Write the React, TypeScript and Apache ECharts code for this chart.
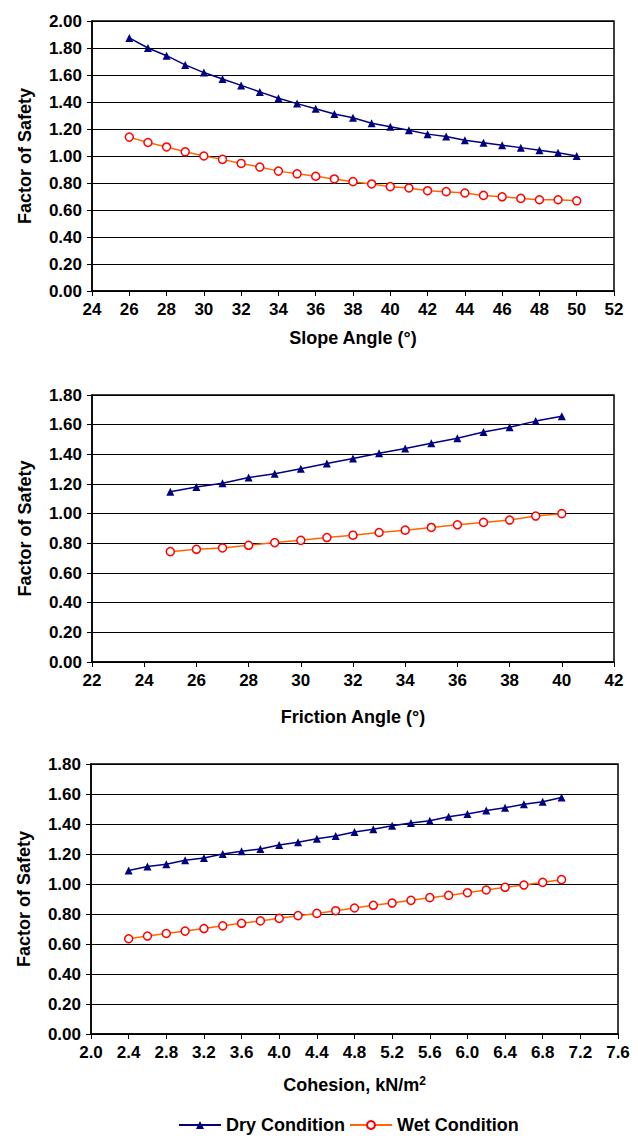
import React, { useEffect, useRef } from "react";
import * as echarts from "echarts";

const slopeAngles = [26, 27, 28, 29, 30, 31, 32, 33, 34, 35, 36, 37, 38, 39, 40, 41, 42, 43, 44, 45, 46, 47, 48, 49, 50];
const slopeDry = [1.875, 1.8, 1.743, 1.675, 1.618, 1.57, 1.523, 1.475, 1.428, 1.388, 1.35, 1.311, 1.283, 1.243, 1.217, 1.19, 1.162, 1.145, 1.117, 1.098, 1.079, 1.062, 1.043, 1.024, 1.0];
const slopeWet = [1.14, 1.1, 1.067, 1.031, 1.0, 0.975, 0.945, 0.918, 0.888, 0.868, 0.85, 0.83, 0.81, 0.793, 0.773, 0.763, 0.743, 0.736, 0.726, 0.708, 0.698, 0.686, 0.676, 0.676, 0.668];

const frictionAngles = [25, 26, 27, 28, 29, 30, 31, 32, 33, 34, 35, 36, 37, 38, 39, 40];
const frictionDry = [1.147, 1.18, 1.205, 1.244, 1.269, 1.303, 1.338, 1.372, 1.407, 1.44, 1.475, 1.508, 1.55, 1.582, 1.624, 1.657];
const frictionWet = [0.744, 0.76, 0.769, 0.787, 0.805, 0.82, 0.839, 0.855, 0.873, 0.889, 0.907, 0.925, 0.941, 0.957, 0.984, 1.0];

const cohesionValues = [2.4, 2.6, 2.8, 3.0, 3.2, 3.4, 3.6, 3.8, 4.0, 4.2, 4.4, 4.6, 4.8, 5.0, 5.2, 5.4, 5.6, 5.8, 6.0, 6.2, 6.4, 6.6, 6.8, 7.0];
const cohesionDry = [1.09, 1.116, 1.132, 1.158, 1.173, 1.2, 1.218, 1.233, 1.26, 1.278, 1.302, 1.32, 1.347, 1.365, 1.389, 1.406, 1.422, 1.448, 1.466, 1.49, 1.508, 1.532, 1.549, 1.576];
const cohesionWet = [0.635, 0.653, 0.67, 0.686, 0.703, 0.721, 0.738, 0.754, 0.771, 0.789, 0.804, 0.822, 0.84, 0.858, 0.873, 0.891, 0.909, 0.924, 0.942, 0.96, 0.978, 0.993, 1.011, 1.029];

const seriesNames = ["Dry Condition", "Wet Condition"];
const yTitle = "Factor of Safety";
const xTitles = ["Slope Angle (°)", "Friction Angle (°)", "Cohesion, kN/m{sup|2}"];

const FONT = "'Liberation Sans', Arial, sans-serif";
const DRY = "#000080";
const WET_LINE = "#FF6600";
const WET_MARK = "#FF0000";

function zip(xs: number[], ys: number[]) {
  return xs.map((x, i) => [x, ys[i]]);
}

export default function App() {
  const ref = useRef<HTMLDivElement>(null);
  useEffect(() => {
    if (!ref.current) return;
    const chart = echarts.init(ref.current, undefined, { renderer: "svg" });
    const tickStyle = { fontFamily: FONT, fontWeight: "bold" as const, fontSize: 17, color: "#000" };
    const titleStyle = { fontFamily: FONT, fontWeight: "bold" as const, fontSize: 18, color: "#000" };
    const grids = [
      { left: 92, top: 21, width: 522, height: 270 },
      { left: 92, top: 395, width: 522, height: 267 },
      { left: 91, top: 764, width: 527, height: 270 },
    ];
    const xCfg = [
      { min: 24, max: 52, interval: 2, dec: 0, gap: 38 },
      { min: 22, max: 42, interval: 2, dec: 0, gap: 46 },
      { min: 2.0, max: 7.6, interval: 0.4, dec: 1, gap: 41 },
    ];
    const yMax = [2.0, 1.8, 1.8];
    const data = [
      [zip(slopeAngles, slopeDry), zip(slopeAngles, slopeWet)],
      [zip(frictionAngles, frictionDry), zip(frictionAngles, frictionWet)],
      [zip(cohesionValues, cohesionDry), zip(cohesionValues, cohesionWet)],
    ];
    const axisLine = { show: true, onZero: false, lineStyle: { color: "#000", width: 1.5 } };
    const option: any = {
      animation: false,
      backgroundColor: "#fff",
      grid: grids.map((g) => ({ ...g, show: true, borderColor: "#000", borderWidth: 1.5, backgroundColor: "#fff" })),
      xAxis: xCfg.map((c, i) => ({
        type: "value",
        gridIndex: i,
        min: c.min,
        max: c.max,
        interval: c.interval,
        axisLine,
        axisTick: { show: true, inside: false, length: 5, lineStyle: { color: "#000", width: 1 } },
        splitLine: { show: false },
        axisLabel: { ...tickStyle, margin: 10, formatter: (v: number) => v.toFixed(c.dec) },
        name: xTitles[i],
        nameLocation: "middle",
        nameGap: c.gap,
        nameTextStyle: {
          ...titleStyle,
          rich: { sup: { fontFamily: FONT, fontWeight: "bold", fontSize: 12, color: "#000", verticalAlign: "top", padding: [0, 0, 8, 0] } },
        },
      })),
      yAxis: yMax.map((m, i) => ({
        type: "value",
        gridIndex: i,
        min: 0,
        max: m,
        interval: 0.2,
        axisLine,
        axisTick: { show: true, inside: false, length: 5, lineStyle: { color: "#000", width: 1 } },
        splitLine: { show: true, lineStyle: { color: "#000", width: 1 } },
        axisLabel: { ...tickStyle, margin: 10, formatter: (v: number) => v.toFixed(2) },
        name: yTitle,
        nameLocation: "middle",
        nameGap: 58,
        nameTextStyle: titleStyle,
      })),
      legend: {
        top: 1116,
        left: 178,
        padding: 0,
        itemWidth: 42,
        itemHeight: 10,
        itemGap: 4,
        textStyle: titleStyle,
        data: seriesNames,
      },
      series: data.flatMap((pair, i) => [
        {
          name: seriesNames[0],
          type: "line",
          xAxisIndex: i,
          yAxisIndex: i,
          data: pair[0],
          symbol: "triangle",
          symbolSize: 8,
          lineStyle: { color: DRY, width: 1.5 },
          itemStyle: { color: DRY },
        },
        {
          name: seriesNames[1],
          type: "line",
          xAxisIndex: i,
          yAxisIndex: i,
          data: pair[1],
          symbol: "circle",
          symbolSize: 8,
          lineStyle: { color: WET_LINE, width: 1.5 },
          itemStyle: { color: "#fff", borderColor: WET_MARK, borderWidth: 1.5 },
        },
      ]),
    };
    chart.setOption(option);
    return () => chart.dispose();
  }, []);
  return (
    <div
      ref={ref}
      style={{ position: "fixed", left: 0, top: 0, width: 638, height: 1136, background: "#fff" }}
    />
  );
}
